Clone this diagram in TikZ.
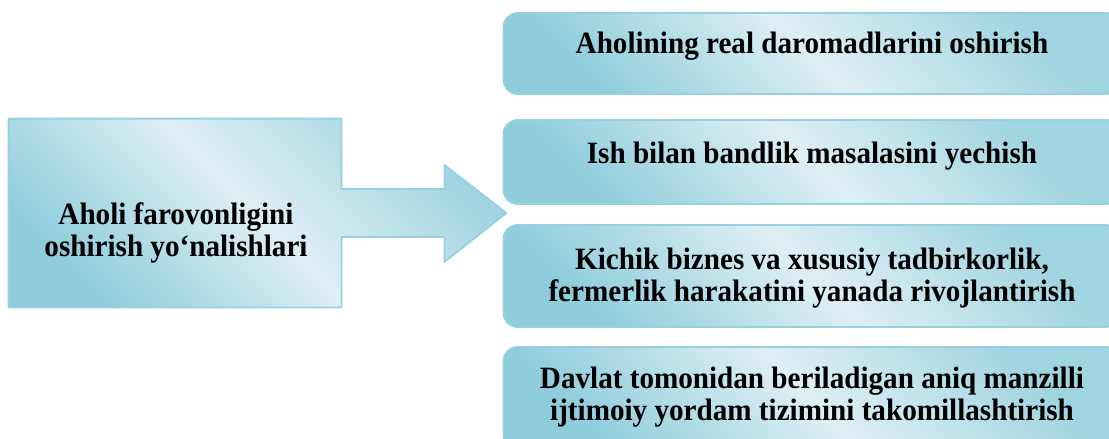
\documentclass[tikz,border=0pt]{standalone}
\usepackage{fontspec}
\setmainfont{Liberation Serif}[FakeStretch=0.94]
\usetikzlibrary{calc}
\definecolor{skydark}{HTML}{8FCDDC}
\definecolor{skylight}{HTML}{DEEFF4}
\definecolor{skyedge}{HTML}{97D1DF}
\begin{document}
\begin{tikzpicture}[x=0.5pt,y=-0.5pt,line join=round,
  font=\bfseries\fontsize{15.5}{16}\selectfont,
  skyfill/.style={draw=skyedge,line width=0.9pt,top color=skydark!80!skylight,
    bottom color=skydark,middle color=skylight,shading angle=-45},
  goalbox/.style={skyfill,rounded corners=7pt,inner sep=0pt,minimum width=308pt},
  goaltext/.style={align=center,inner sep=0pt}]
  \useasboundingbox (0,0) rectangle (1109,439);
  % chap blok va strelka bitta kontur
  \node[minimum width=166pt,minimum height=94pt,inner sep=0pt] (src) at (175,213) {};
  \coordinate (tip) at ($(src.east)+(165,0)$);
  \draw[skyfill] (src.north west) -- (src.north east) -- ($(src.east)+(0,-24)$)
    -- ($(src.east)+(103,-24)$) -- ($(src.east)+(103,-48)$) -- (tip)
    -- ($(src.east)+(103,49)$) -- ($(src.east)+(103,24)$) -- ($(src.east)+(0,24)$)
    -- (src.south east) -- (src.south west) -- cycle;
  \node[goaltext] (srctext) at (176,233) {Aholi farovonligini\\oshirish yo‘nalishlari};
  % o'ng bloklar
  \node[goalbox,minimum height=40.5pt] (r1) at (811.5,53.5) {};
  \node[goalbox,minimum height=42pt] (r2) at (811.5,162) {};
  \node[goalbox,minimum height=51pt] (r3) at (811.5,276) {};
  \node[goalbox,minimum height=51pt] (r4) at (811.5,398) {};
  \node[goaltext] (t1) at (812,46) {Aholining real daromadlarini oshirish};
  \node[goaltext] (t2) at (812,156) {Ish bilan bandlik masalasini yechish};
  \node[goaltext] (t3) at (812,278) {Kichik biznes va xususiy tadbirkorlik,\\fermerlik harakatini yanada rivojlantirish};
  \node[goaltext] (t4) at (812,397) {Davlat tomonidan beriladigan aniq manzilli\\ijtimoiy yordam tizimini takomillashtirish};
\end{tikzpicture}
\end{document}
